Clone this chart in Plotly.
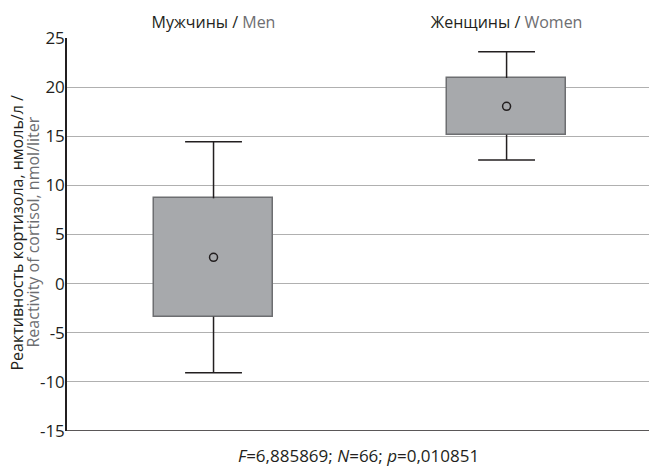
import plotly.graph_objects as go

# Cortisol reactivity by sex: mean, mean ± SE (box), mean ± 1.96·SE (whiskers)
groups_ru = ["Мужчины", "Женщины"]
groups_en = ["Men", "Women"]
means = [2.68, 18.05]
box_low = [-3.36, 15.16]
box_high = [8.68, 20.93]
whisker_low = [-9.08, 12.58]
whisker_high = [14.45, 23.6]

y_ticks = [25, 20, 15, 10, 5, 0, -5, -10, -15]

DARK = "#231f20"
GREY_TXT = "#6d6e71"
BOX_FILL = "#a7a9ac"
BOX_LINE = "#6d6e71"
GRID = "#b0b0b0"
FONT = "Open Sans"

BOX_W = 0.406   # box width in category units
CAP_HALF = 0.097  # half width of whisker caps in category units

xs = list(range(len(groups_ru)))

fig = go.Figure()

# Boxes: mean ± SE
fig.add_trace(go.Bar(
    x=xs,
    y=[h - l for h, l in zip(box_high, box_low)],
    base=box_low,
    width=BOX_W,
    marker=dict(color=BOX_FILL, line=dict(color=BOX_LINE, width=1.5)),
    showlegend=False,
    hoverinfo="skip",
))

# Whiskers with caps, drawn outward from the box edges
wx, wy = [], []
for x, bl, bh, wl, wh in zip(xs, box_low, box_high, whisker_low, whisker_high):
    wx += [x, x, None, x - CAP_HALF, x + CAP_HALF, None]
    wy += [bh, wh, None, wh, wh, None]
    wx += [x, x, None, x - CAP_HALF, x + CAP_HALF, None]
    wy += [bl, wl, None, wl, wl, None]
fig.add_trace(go.Scatter(
    x=wx, y=wy, mode="lines",
    line=dict(color=DARK, width=1.5),
    showlegend=False, hoverinfo="skip",
))

# Means
fig.add_trace(go.Scatter(
    x=xs, y=means, mode="markers",
    marker=dict(symbol="circle-open", size=8, color=DARK, line=dict(width=1.5)),
    showlegend=False,
))

tick_text = [f"{ru} / <span style='color:{GREY_TXT}'>{en}</span>"
             for ru, en in zip(groups_ru, groups_en)]

fig.update_layout(
    width=649, height=466,
    margin=dict(l=67, r=0, t=38, b=35),
    plot_bgcolor="white", paper_bgcolor="white",
    font=dict(family=FONT, size=16, color=DARK),
    bargap=0,
    xaxis=dict(
        side="top",
        range=[-0.5, 1.486],
        tickmode="array", tickvals=xs, ticktext=tick_text,
        showgrid=False, zeroline=False, showline=False,
        ticks="", ticklen=0, ticklabelstandoff=6,
        tickfont=dict(size=16, color=DARK),
        fixedrange=True,
    ),
    yaxis=dict(
        range=[-15, 25],
        tickmode="array", tickvals=y_ticks,
        ticktext=[str(v) for v in y_ticks],
        showgrid=True, gridcolor=GRID, gridwidth=1.4,
        zeroline=False,
        showline=True, linecolor=DARK, linewidth=1.5,
        ticks="", ticklabelstandoff=-3,
        tickfont=dict(size=17, color=DARK),
        fixedrange=True,
    ),
    shapes=[dict(
        type="line", xref="paper", x0=0, x1=1, yref="y", y0=-15, y1=-15,
        line=dict(color=DARK, width=1.5), layer="above",
    )],
    annotations=[
        # y-axis title, Russian and English lines
        dict(
            text="Реактивность кортизола, нмоль/л /",
            xref="paper", yref="paper", x=0, y=0.505, xshift=-50,
            textangle=-90, xanchor="center", yanchor="middle",
            showarrow=False, font=dict(size=16, color=DARK),
        ),
        dict(
            text="Reactivity of cortisol, nmol/liter",
            xref="paper", yref="paper", x=0, y=0.505, xshift=-34,
            textangle=-90, xanchor="center", yanchor="middle",
            showarrow=False, font=dict(size=16, color=GREY_TXT),
        ),
        dict(
            text="<i>F</i>=6,885869; <i>N</i>=66; <i>p</i>=0,010851",
            xref="paper", yref="paper", x=0.5, y=0, yshift=-24,
            xanchor="center", yanchor="middle", showarrow=False,
            font=dict(size=17, color=DARK),
        ),
    ],
)

fig.write_html("out.html")
